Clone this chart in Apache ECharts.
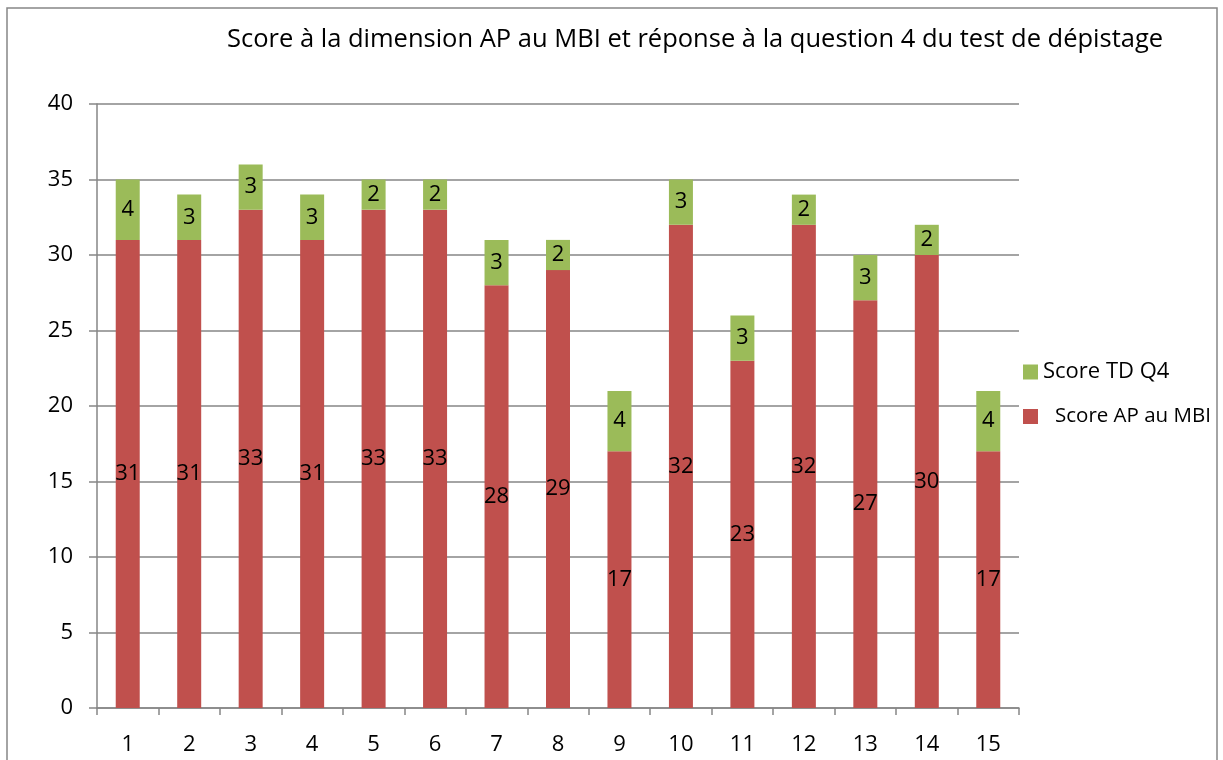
<!DOCTYPE html>
<html>
<head>
<meta charset="utf-8">
<script src="https://cdn.jsdelivr.net/npm/echarts@6/dist/echarts.min.js"></script>
<style>
  html, body { margin: 0; padding: 0; background: #fff; }
  #main { width: 1223px; height: 760px; }
</style>
</head>
<body>
<div id="main"></div>
<script>
const categories = ['1', '2', '3', '4', '5', '6', '7', '8', '9', '10', '11', '12', '13', '14', '15'];
const scoreAP = [31, 31, 33, 31, 33, 33, 28, 29, 17, 32, 23, 32, 27, 30, 17];
const scoreTD = [4, 3, 3, 3, 2, 2, 3, 2, 4, 3, 3, 2, 3, 2, 4];

const font = '"Open Sans", "Noto Sans", sans-serif';
let myChart = echarts.init(document.getElementById('main'));
let option = {
  animation: false,
  textStyle: { fontFamily: font },
  title: {
    text: 'Score à la dimension AP au MBI et réponse à la question 4 du test de dépistage',
    left: 222,
    top: 22,
    textStyle: { fontFamily: font, fontWeight: 'normal', fontSize: 25.5, color: '#000' }
  },
  graphic: [{
    type: 'rect',
    shape: { x: 7, y: 8, width: 1210, height: 800 },
    style: { fill: 'none', stroke: '#868686', lineWidth: 1.5 },
    silent: true
  }],
  legend: {
    orient: 'vertical',
    left: 1018,
    top: 356,
    itemWidth: 15,
    itemHeight: 15,
    itemGap: 23,
    icon: 'rect',
    data: [
      { name: 'Score TD Q4', textStyle: { fontSize: 22, color: '#000' } },
      { name: 'Score AP au MBI', textStyle: { fontSize: 20.5, color: '#000', padding: [0, 0, 0, 12] } }
    ],
    textStyle: { fontFamily: font }
  },
  grid: { left: 97, right: 204, top: 104, bottom: 52 },
  xAxis: {
    type: 'category',
    data: categories,
    axisLine: { lineStyle: { color: '#868686', width: 1.5 } },
    axisTick: { show: true, length: 7, lineStyle: { color: '#868686', width: 1.5 } },
    axisLabel: { fontSize: 22, color: '#000', margin: 26, fontFamily: font }
  },
  yAxis: {
    type: 'value',
    min: 0,
    max: 40,
    interval: 5,
    axisLine: { show: true, lineStyle: { color: '#868686', width: 1.5 } },
    axisTick: { show: true, length: 8, lineStyle: { color: '#868686', width: 1.5 } },
    splitLine: { lineStyle: { color: '#868686', width: 1.5 } },
    axisLabel: { fontSize: 22, color: '#000', margin: 24, fontFamily: font }
  },
  series: [{
    name: 'Score AP au MBI',
    type: 'bar',
    stack: 'total',
    data: scoreAP,
    barWidth: 24,
    itemStyle: { color: '#C0504D' },
    label: { show: true, position: 'inside', fontSize: 22, color: '#000', fontFamily: font }
  }, {
    name: 'Score TD Q4',
    type: 'bar',
    stack: 'total',
    data: scoreTD,
    barWidth: 24,
    itemStyle: { color: '#9BBB59' },
    label: { show: true, position: 'inside', fontSize: 22, color: '#000', fontFamily: font }
  }]
};
myChart.setOption(option);
window.addEventListener('resize', function () {
  myChart.resize();
});
</script>
</body>
</html>
